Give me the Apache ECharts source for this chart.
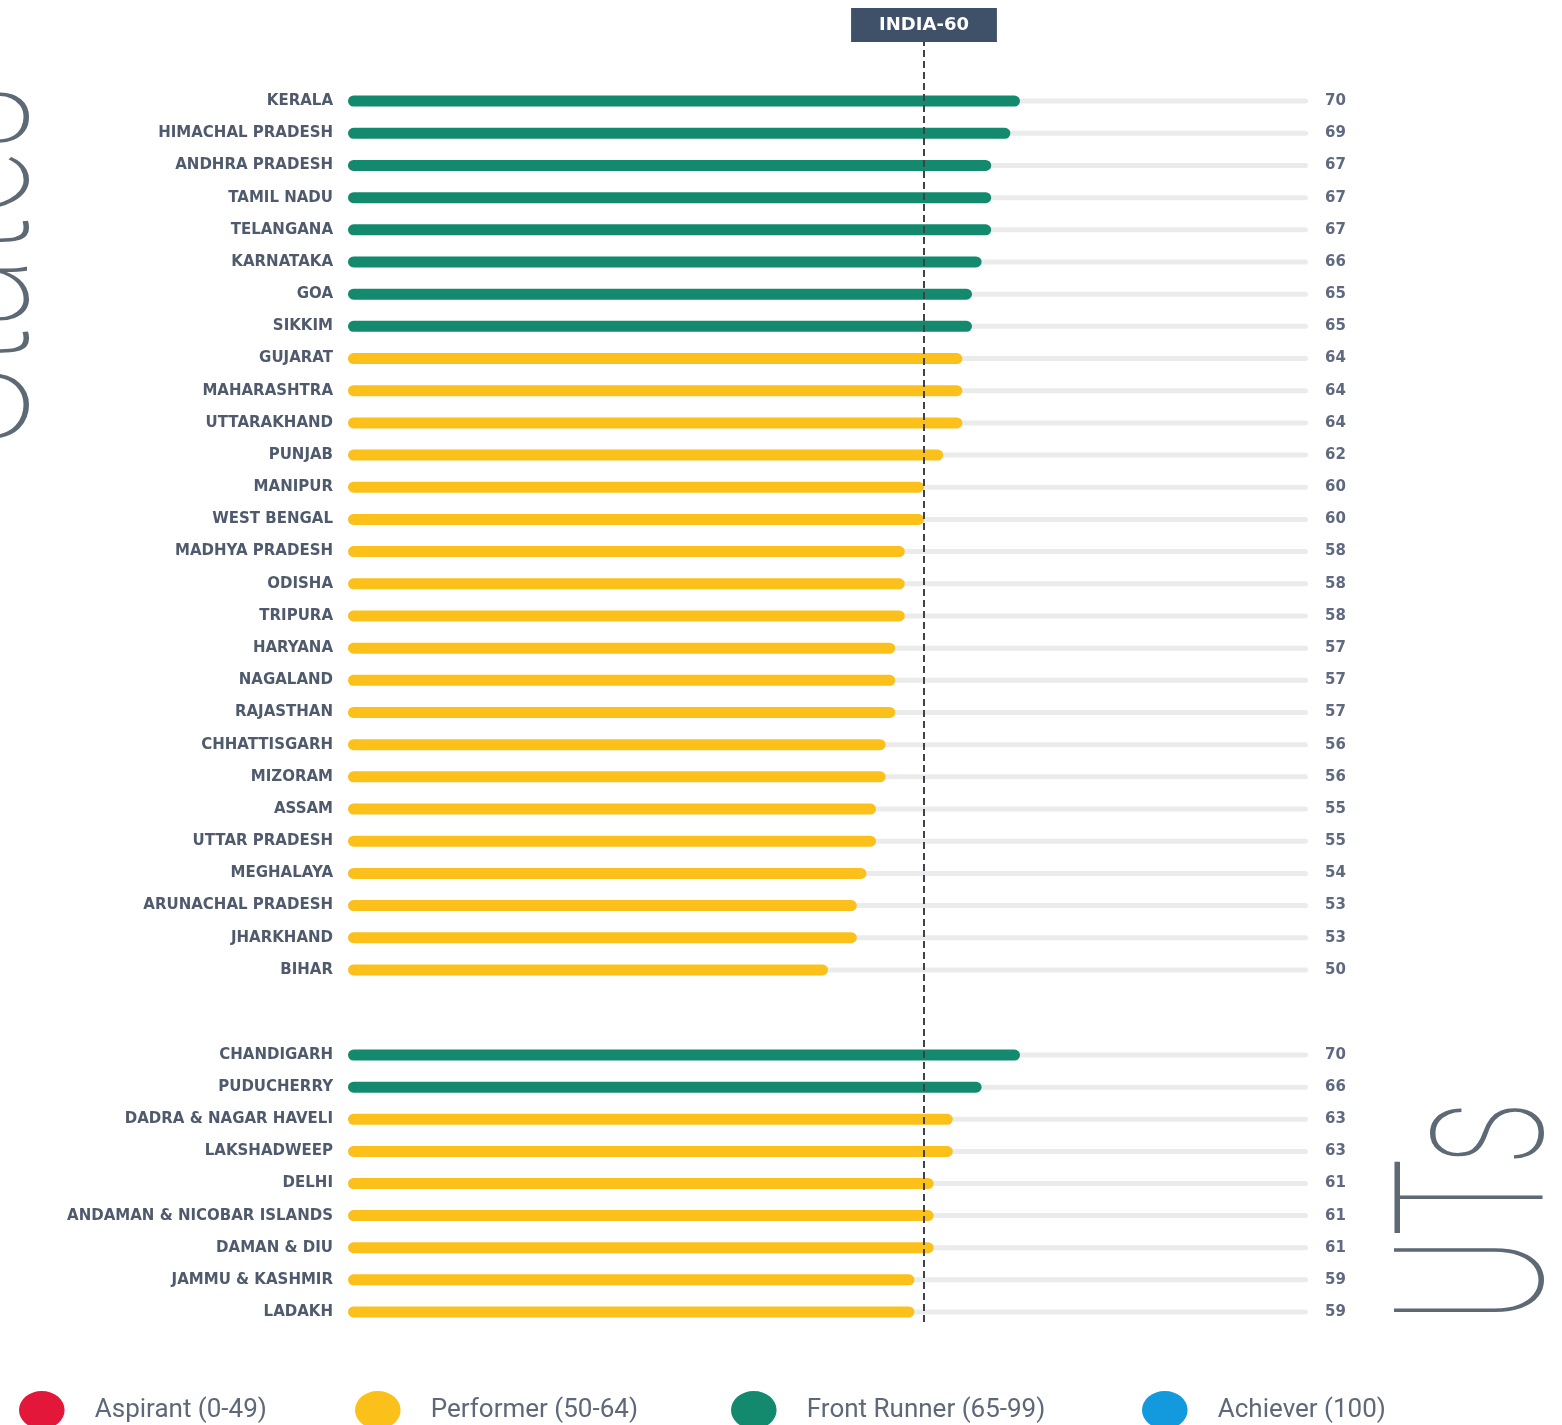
<!DOCTYPE html>
<html>
<head>
<meta charset="utf-8">
<script src="https://cdn.jsdelivr.net/npm/echarts@6/dist/echarts.min.js"></script>
<style>
  html, body { margin: 0; padding: 0; background: #fff; }
  #chart { width: 1562px; height: 1425px; }
</style>
</head>
<body>
<div id="chart"></div>
<script>
const stateNames = [
  "KERALA", "HIMACHAL PRADESH", "ANDHRA PRADESH", "TAMIL NADU", "TELANGANA",
  "KARNATAKA", "GOA", "SIKKIM", "GUJARAT", "MAHARASHTRA", "UTTARAKHAND",
  "PUNJAB", "MANIPUR", "WEST BENGAL", "MADHYA PRADESH", "ODISHA", "TRIPURA",
  "HARYANA", "NAGALAND", "RAJASTHAN", "CHHATTISGARH", "MIZORAM", "ASSAM",
  "UTTAR PRADESH", "MEGHALAYA", "ARUNACHAL PRADESH", "JHARKHAND", "BIHAR"
];
const stateScores = [70, 69, 67, 67, 67, 66, 65, 65, 64, 64, 64, 62, 60, 60, 58, 58, 58, 57, 57, 57, 56, 56, 55, 55, 54, 53, 53, 50];

const utNames = [
  "CHANDIGARH", "PUDUCHERRY", "DADRA & NAGAR HAVELI", "LAKSHADWEEP", "DELHI",
  "ANDAMAN & NICOBAR ISLANDS", "DAMAN & DIU", "JAMMU & KASHMIR", "LADAKH"
];
const utScores = [70, 66, 63, 63, 61, 61, 61, 59, 59];

const bandNames = ["Aspirant (0-49)", "Performer (50-64)", "Front Runner (65-99)", "Achiever (100)"];
const bandFloors = [0, 50, 65, 100];
const bandColors = ["#e2173a", "#fbc11a", "#138a6d", "#1399dd"];
const indiaScore = 60;

const chart = echarts.init(document.getElementById("chart"));

const bandOf = (v) => {
  let b = 0;
  bandFloors.forEach((f, i) => { if (v >= f) b = i; });
  return b;
};

const labelFont = "DejaVu Sans";
const textGrey = "#4f5a6d";

// bars split by band, stacked so only one shows per row
const bandSeries = (scores, yIdx, xIdx, stackName) =>
  bandNames.map((name, bi) => ({
    type: "bar",
    name: name,
    xAxisIndex: xIdx,
    yAxisIndex: yIdx,
    stack: stackName,
    barWidth: 11,
    z: 3,
    itemStyle: { color: bandColors[bi], borderRadius: 6 },
    data: scores.map((v) => (bandOf(v) === bi ? v : null)),
  }));

const trackSeries = (scores, yIdx, xIdx) => ({
  type: "bar",
  name: "track",
  xAxisIndex: xIdx,
  yAxisIndex: yIdx,
  barWidth: 5,
  silent: true,
  z: 1,
  itemStyle: { color: "#ebebeb", borderRadius: 3 },
  label: {
    show: true,
    position: "right",
    distance: 17,
    color: "#5f6a80",
    fontFamily: labelFont,
    fontWeight: "bold",
    fontSize: 15,
    formatter: (p) => String(scores[p.dataIndex]),
  },
  data: scores.map(() => 100),
});

const catAxis = (names, gridIdx, show) => ({
  type: "category",
  gridIndex: gridIdx,
  data: names,
  inverse: true,
  show: show,
  axisLine: { show: false },
  axisTick: { show: false },
  axisLabel: {
    margin: 15,
    color: textGrey,
    fontFamily: labelFont,
    fontWeight: "bold",
    fontSize: 15,
  },
});

const valAxis = (gridIdx) => ({
  type: "value",
  gridIndex: gridIdx,
  min: 0,
  max: 100,
  show: false,
});

const ellipseIcon = "path://M0,20 A24,20 0 1,0 48,20 A24,20 0 1,0 0,20 Z";
const legendLefts = [14, 350, 726, 1137];

const option = {
  animation: false,
  backgroundColor: "#ffffff",
  grid: [
    { left: 348, width: 960, top: 85, height: 901 },
    { left: 348, width: 960, top: 1039, height: 289 },
    { left: 348, width: 960, top: 42, height: 1280 },
  ],
  xAxis: [valAxis(0), valAxis(1), valAxis(2)],
  yAxis: [
    catAxis(stateNames, 0, true),
    catAxis(stateNames, 0, false),
    catAxis(utNames, 1, true),
    catAxis(utNames, 1, false),
    { type: "value", gridIndex: 2, min: 0, max: 1, show: false },
  ],
  legend: bandNames.map((name, i) => ({
    data: [name],
    left: legendLefts[i],
    top: 1386,
    icon: ellipseIcon,
    itemWidth: 48,
    itemHeight: 38,
    selectedMode: false,
    textStyle: {
      fontFamily: "Roboto",
      fontSize: 26,
      color: "#5f6878",
      padding: [0, 0, 0, 24],
    },
  })),
  graphic: [
    {
      type: "text",
      x: -25,
      y: 265,
      rotation: Math.PI / 2,
      scaleX: 0.63,
      silent: true,
      style: {
        text: "States",
        fontFamily: "Roboto",
        fontWeight: 100,
        fontSize: 208,
        fill: "#5e6976",
        align: "center",
        verticalAlign: "middle",
      },
    },
    {
      type: "text",
      x: 1490,
      y: 1212,
      rotation: Math.PI / 2,
      scaleX: 0.63,
      silent: true,
      style: {
        text: "UTs",
        fontFamily: "Roboto",
        fontWeight: 100,
        fontSize: 208,
        fill: "#5e6976",
        align: "center",
        verticalAlign: "middle",
      },
    },
  ],
  series: [
    trackSeries(stateScores, 1, 0),
    ...bandSeries(stateScores, 0, 0, "states"),
    trackSeries(utScores, 3, 1),
    ...bandSeries(utScores, 2, 1, "uts"),
    {
      type: "scatter",
      name: "india",
      xAxisIndex: 2,
      yAxisIndex: 4,
      data: [],
      z: 10,
      markLine: {
        silent: true,
        symbol: ["none", "none"],
        lineStyle: { color: "#3e434b", width: 2, type: [7, 4] },
        label: {
          show: true,
          position: "end",
          distance: 0,
          formatter: "INDIA-" + indiaScore,
          backgroundColor: "#3f5168",
          color: "#ffffff",
          fontFamily: labelFont,
          fontWeight: "bold",
          fontSize: 18,
          padding: [8, 28, 8, 28],
        },
        data: [{ xAxis: indiaScore }],
      },
    },
  ],
};

chart.setOption(option);
</script>
</body>
</html>
